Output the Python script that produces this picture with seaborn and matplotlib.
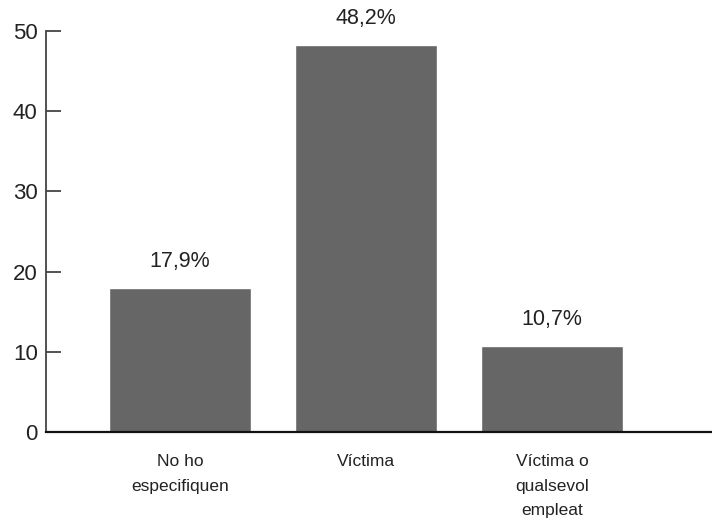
import matplotlib
matplotlib.use("Agg")
import matplotlib.pyplot as plt
import seaborn as sns
import pandas as pd

categories = ["No ho\nespecifiquen", "Víctima", "Víctima o\nqualsevol\nempleat"]
values = [17.9, 48.2, 10.7]
labels = ["17,9%", "48,2%", "10,7%"]

sns.set_style("white")
plt.rcParams['font.family'] = ['Liberation Sans', 'DejaVu Sans']

df = pd.DataFrame({"cat": categories, "val": values})

fig = plt.figure(figsize=(7.12, 5.25), dpi=100)
ax = fig.add_axes([0.0646, 0.177, 0.9354, 0.764])
sns.barplot(data=df, x="cat", y="val", color="#666666", saturation=1, width=0.76, ax=ax)

for i, (v, lab) in enumerate(zip(values, labels)):
    ax.text(i, v + 2.0, lab, ha="center", va="bottom", fontsize=15.5, color="#222222")

ax.set_xlim(-0.72, 2.86)
ax.set_ylim(0, 50)
ax.set_yticks([0, 10, 20, 30, 40, 50])
ax.set_xlabel("")
ax.set_ylabel("")
for s in ["top", "right"]:
    ax.spines[s].set_visible(False)
ax.spines["left"].set_color("#444444")
ax.spines["left"].set_linewidth(1.3)
ax.spines["bottom"].set_color("#111111")
ax.spines["bottom"].set_linewidth(1.6)
ax.tick_params(axis="y", direction="in", length=11, width=1.3, color="#444444",
               labelsize=16, labelcolor="#222222", pad=6, left=True)
ax.tick_params(axis="x", length=0, labelsize=12.5, labelcolor="#222222", pad=16)
for t in ax.get_xticklabels():
    t.set_linespacing(1.8)

fig.savefig("out.png", dpi=100)
